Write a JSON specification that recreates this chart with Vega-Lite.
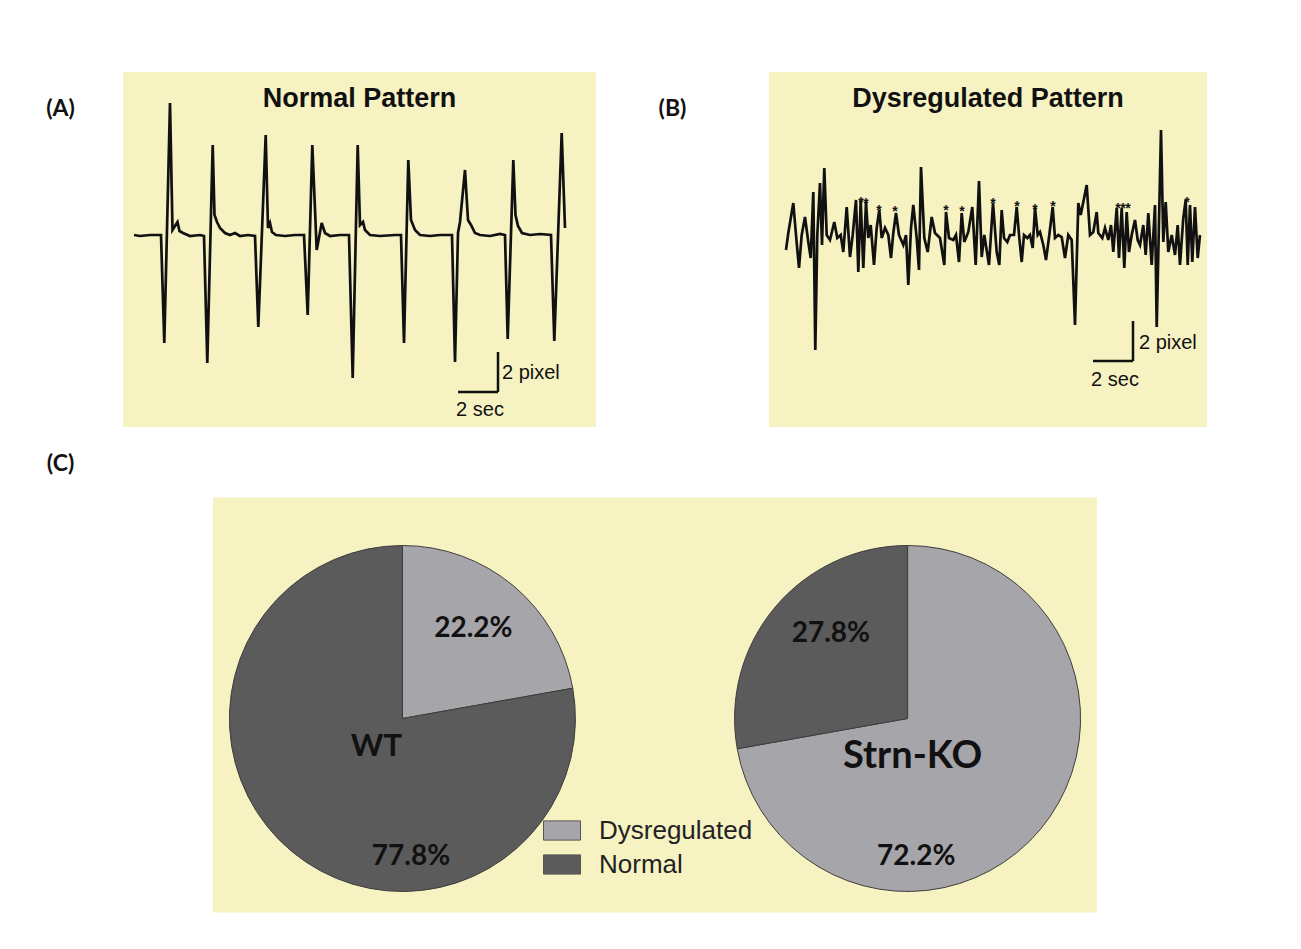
{
  "$schema": "https://vega.github.io/schema/vega-lite/v6.json",
  "background": "white",
  "padding": {"left": 45, "top": 72, "right": 5, "bottom": 5},
  "datasets": {
    "traceA": [
      {"t":0.05,"v":0},{"t":0.35,"v":-0.05},{"t":0.85,"v":0},{"t":1.4,"v":0},{"t":1.565,"v":-5.4},{"t":1.85,"v":6.6},{"t":1.975,"v":0.25},{"t":2.1,"v":0.45},{"t":2.225,"v":0.65},{"t":2.325,"v":0.2},{"t":2.5,"v":0.1},{"t":2.85,"v":-0.05},{"t":3.35,"v":0},{"t":3.55,"v":-0.05},{"t":3.715,"v":-6.4},{"t":3.985,"v":4.5},{"t":4.075,"v":1.0},{"t":4.2,"v":0.65},{"t":4.35,"v":0.35},{"t":4.6,"v":0.1},{"t":4.85,"v":0},{"t":5.1,"v":0.1},{"t":5.35,"v":-0.05},{"t":5.75,"v":0},{"t":6.1,"v":-0.05},{"t":6.265,"v":-4.6},{"t":6.635,"v":5.0},{"t":6.75,"v":0.35},{"t":6.85,"v":0.6},{"t":6.95,"v":0.15},{"t":7.15,"v":0},{"t":7.6,"v":-0.05},{"t":8.1,"v":0},{"t":8.55,"v":0},{"t":8.735,"v":-4.0},{"t":8.965,"v":4.5},{"t":9.185,"v":-0.75},{"t":9.435,"v":0.6},{"t":9.6,"v":0.1},{"t":9.85,"v":-0.05},{"t":10.35,"v":0},{"t":10.8,"v":0},{"t":10.985,"v":-7.15},{"t":11.235,"v":4.5},{"t":11.35,"v":0.5},{"t":11.5,"v":0.65},{"t":11.6,"v":0.25},{"t":11.85,"v":0},{"t":12.35,"v":-0.05},{"t":13.1,"v":0},{"t":13.4,"v":0},{"t":13.55,"v":-5.4},{"t":13.765,"v":3.75},{"t":13.9,"v":0.75},{"t":14.1,"v":0.25},{"t":14.35,"v":0},{"t":14.85,"v":-0.05},{"t":15.35,"v":0},{"t":15.95,"v":0},{"t":16.1,"v":-6.35},{"t":16.25,"v":0.1},{"t":16.35,"v":0.65},{"t":16.6,"v":3.25},{"t":16.75,"v":0.75},{"t":16.9,"v":0.5},{"t":17.1,"v":0.1},{"t":17.35,"v":0},{"t":17.85,"v":-0.05},{"t":18.35,"v":0.05},{"t":18.6,"v":0},{"t":18.735,"v":-5.2},{"t":19.015,"v":3.75},{"t":19.125,"v":1.0},{"t":19.25,"v":0.45},{"t":19.45,"v":0.1},{"t":19.85,"v":0},{"t":20.35,"v":0.05},{"t":20.9,"v":0},{"t":21.065,"v":-5.3},{"t":21.435,"v":5.1},{"t":21.6,"v":0.35}
    ],
    "traceB": [
      {"t":0.05,"v":-0.75},{"t":0.165,"v":0.1},{"t":0.415,"v":1.6},{"t":0.55,"v":0},{"t":0.7,"v":-1.65},{"t":0.835,"v":0},{"t":1.0,"v":0.9},{"t":1.165,"v":-0.35},{"t":1.285,"v":-1.15},{"t":1.415,"v":2.15},{"t":1.515,"v":-5.75},{"t":1.615,"v":0},{"t":1.75,"v":2.6},{"t":1.85,"v":-0.5},{"t":1.965,"v":3.35},{"t":2.085,"v":0},{"t":2.25,"v":-0.25},{"t":2.465,"v":0.65},{"t":2.615,"v":-0.15},{"t":2.785,"v":0},{"t":2.915,"v":-0.85},{"t":3.085,"v":1.4},{"t":3.25,"v":-1.1},{"t":3.385,"v":0},{"t":3.55,"v":1.75},{"t":3.665,"v":-1.85},{"t":3.785,"v":1.75},{"t":3.915,"v":-1.65},{"t":4.05,"v":1.65},{"t":4.165,"v":-0.15},{"t":4.285,"v":0.5},{"t":4.45,"v":-1.5},{"t":4.585,"v":0.35},{"t":4.715,"v":1.25},{"t":4.835,"v":-0.15},{"t":5.0,"v":0.35},{"t":5.165,"v":0},{"t":5.3,"v":-1.15},{"t":5.415,"v":0.1},{"t":5.55,"v":1.1},{"t":5.7,"v":0},{"t":5.915,"v":-0.5},{"t":6.05,"v":0},{"t":6.165,"v":-2.5},{"t":6.3,"v":0.35},{"t":6.415,"v":1.5},{"t":6.585,"v":-0.15},{"t":6.7,"v":-1.75},{"t":6.8,"v":3.4},{"t":6.965,"v":-0.15},{"t":7.135,"v":-0.85},{"t":7.335,"v":0.9},{"t":7.5,"v":0.1},{"t":7.75,"v":-0.15},{"t":7.965,"v":-1.5},{"t":8.05,"v":1.15},{"t":8.2,"v":-0.15},{"t":8.415,"v":-0.25},{"t":8.55,"v":0},{"t":8.7,"v":-1.35},{"t":8.835,"v":1.1},{"t":8.965,"v":-0.35},{"t":9.165,"v":0.15},{"t":9.365,"v":1.4},{"t":9.535,"v":-1.5},{"t":9.7,"v":2.7},{"t":9.835,"v":-1.1},{"t":9.965,"v":0},{"t":10.2,"v":-1.5},{"t":10.4,"v":1.6},{"t":10.585,"v":-0.85},{"t":10.715,"v":-1.5},{"t":10.835,"v":1.25},{"t":10.95,"v":-0.15},{"t":11.115,"v":-0.35},{"t":11.25,"v":0},{"t":11.45,"v":0},{"t":11.585,"v":1.4},{"t":11.715,"v":-0.15},{"t":11.835,"v":-1.35},{"t":11.95,"v":0},{"t":12.115,"v":-0.15},{"t":12.25,"v":0},{"t":12.385,"v":-0.65},{"t":12.5,"v":1.35},{"t":12.635,"v":0},{"t":12.75,"v":0.15},{"t":12.915,"v":-0.5},{"t":13.05,"v":-1.25},{"t":13.215,"v":0},{"t":13.385,"v":1.4},{"t":13.5,"v":-0.15},{"t":13.665,"v":0},{"t":13.835,"v":-0.1},{"t":14.0,"v":-1.15},{"t":14.165,"v":0},{"t":14.335,"v":-0.25},{"t":14.5,"v":-4.5},{"t":14.665,"v":1.6},{"t":14.785,"v":1.0},{"t":15.085,"v":2.5},{"t":15.25,"v":0},{"t":15.415,"v":0.15},{"t":15.585,"v":1.15},{"t":15.665,"v":0.1},{"t":15.865,"v":-0.15},{"t":16.0,"v":0.35},{"t":16.165,"v":-0.25},{"t":16.3,"v":0.5},{"t":16.415,"v":-0.85},{"t":16.585,"v":1.35},{"t":16.7,"v":-1.15},{"t":16.835,"v":1.35},{"t":16.965,"v":-1.65},{"t":17.085,"v":1.15},{"t":17.2,"v":-0.85},{"t":17.335,"v":0},{"t":17.5,"v":0.75},{"t":17.635,"v":-0.25},{"t":17.75,"v":-0.5},{"t":17.915,"v":0.5},{"t":18.035,"v":-1.0},{"t":18.165,"v":1.1},{"t":18.335,"v":-1.5},{"t":18.5,"v":1.5},{"t":18.585,"v":-4.6},{"t":18.8,"v":5.25},{"t":18.915,"v":-0.35},{"t":19.035,"v":1.65},{"t":19.165,"v":-0.85},{"t":19.335,"v":0},{"t":19.5,"v":-1.0},{"t":19.635,"v":0.5},{"t":19.75,"v":-1.5},{"t":19.915,"v":0.85},{"t":20.035,"v":1.75},{"t":20.135,"v":-1.5},{"t":20.25,"v":1.5},{"t":20.365,"v":-1.35},{"t":20.5,"v":1.4},{"t":20.635,"v":-1.15},{"t":20.75,"v":0}
    ],
    "starsB": [
      {"t":3.8,"v":1.75},{"t":4.05,"v":1.7},{"t":4.7,"v":1.35},{"t":5.5,"v":1.3},{"t":8.05,"v":1.35},{"t":8.85,"v":1.3},{"t":10.4,"v":1.7},{"t":11.6,"v":1.55},{"t":12.5,"v":1.4},{"t":13.4,"v":1.55},{"t":16.65,"v":1.45},{"t":16.9,"v":1.45},{"t":17.15,"v":1.45},{"t":20.1,"v":1.75}
    ],
    "pies": [
      {"genotype":"WT","status":"Dysregulated","share":0.222},
      {"genotype":"WT","status":"Normal","share":0.778},
      {"genotype":"Strn-KO","status":"Dysregulated","share":0.722},
      {"genotype":"Strn-KO","status":"Normal","share":0.278}
    ]
  },
  "bounds": "full",
  "spacing": 25.5,
  "resolve": {"scale": {"color": "independent"}, "legend": {"color": "independent"}},
  "vconcat": [
    {
      "bounds": "flush",
      "spacing": 173,
      "hconcat": [
        {
          "width": 473,
          "height": 355,
          "title": {"text": "Normal Pattern", "frame": "group", "anchor": "middle", "offset": -41, "fontSize": 27, "font": "Liberation Sans", "fontWeight": "bold", "color": "#111111"},
          "layer": [
            {
              "data": {"name": "traceA"},
              "mark": {"type": "line", "color": "#111111", "strokeWidth": 2.7},
              "encoding": {
                "x": {"field": "t", "type": "quantitative", "scale": {"domain": [-0.5, 23.15], "nice": false, "zero": false}, "axis": null},
                "y": {"field": "v", "type": "quantitative", "scale": {"domain": [-9.6, 8.15], "nice": false, "zero": false},
                      "axis": {"title": "(A)", "domain": false, "ticks": false, "labels": false, "grid": false, "titleAngle": 0, "titleX": -63, "titleY": 36, "titleAlign": "center", "titleBaseline": "middle", "titleFont": "Lato", "titleFontSize": 23, "titleFontWeight": "bold", "titleColor": "#111111"}}
              }
            },
            {
              "data": {"values": [{"bar": "time"}]},
              "mark": {"type": "rule", "color": "#111111", "strokeWidth": 2.5},
              "encoding": {"x": {"datum": 16.25}, "x2": {"datum": 18.25}, "y": {"datum": -7.85}}
            },
            {
              "data": {"values": [{"bar": "amplitude"}]},
              "mark": {"type": "rule", "color": "#111111", "strokeWidth": 2.5},
              "encoding": {"x": {"datum": 18.25}, "y": {"datum": -7.85}, "y2": {"datum": -5.85}}
            },
            {
              "data": {"values": [{"label": "2 pixel"}]},
              "mark": {"type": "text", "align": "left", "baseline": "middle", "fontSize": 20, "font": "Liberation Sans", "color": "#111111"},
              "encoding": {"x": {"datum": 18.45}, "y": {"datum": -6.9}, "text": {"field": "label"}}
            },
            {
              "data": {"values": [{"label": "2 sec"}]},
              "mark": {"type": "text", "align": "center", "baseline": "middle", "fontSize": 20, "font": "Liberation Sans", "color": "#111111"},
              "encoding": {"x": {"datum": 17.35}, "y": {"datum": -8.75}, "text": {"field": "label"}}
            }
          ]
        },
        {
          "width": 438,
          "height": 355,
          "title": {"text": "Dysregulated Pattern", "frame": "group", "anchor": "middle", "offset": -41, "fontSize": 27, "font": "Liberation Sans", "fontWeight": "bold", "color": "#111111"},
          "layer": [
            {
              "data": {"name": "traceB"},
              "mark": {"type": "line", "color": "#111111", "strokeWidth": 2.7},
              "encoding": {
                "x": {"field": "t", "type": "quantitative", "scale": {"domain": [-0.8, 21.1], "nice": false, "zero": false}, "axis": null},
                "y": {"field": "v", "type": "quantitative", "scale": {"domain": [-9.6, 8.15], "nice": false, "zero": false},
                      "axis": {"title": "(B)", "domain": false, "ticks": false, "labels": false, "grid": false, "titleAngle": 0, "titleX": -97, "titleY": 36, "titleAlign": "center", "titleBaseline": "middle", "titleFont": "Lato", "titleFontSize": 23, "titleFontWeight": "bold", "titleColor": "#111111"}}
              }
            },
            {
              "data": {"name": "starsB"},
              "mark": {"type": "text", "text": "*", "fontSize": 14, "fontWeight": "bold", "font": "Liberation Sans", "baseline": "middle", "align": "center", "dy": 3, "color": "#111111"},
              "encoding": {"x": {"field": "t", "type": "quantitative"}, "y": {"field": "v", "type": "quantitative"}}
            },
            {
              "data": {"values": [{"bar": "time"}]},
              "mark": {"type": "rule", "color": "#111111", "strokeWidth": 2.5},
              "encoding": {"x": {"datum": 15.4}, "x2": {"datum": 17.4}, "y": {"datum": -6.3}}
            },
            {
              "data": {"values": [{"bar": "amplitude"}]},
              "mark": {"type": "rule", "color": "#111111", "strokeWidth": 2.5},
              "encoding": {"x": {"datum": 17.4}, "y": {"datum": -6.3}, "y2": {"datum": -4.3}}
            },
            {
              "data": {"values": [{"label": "2 pixel"}]},
              "mark": {"type": "text", "align": "left", "baseline": "middle", "fontSize": 20, "font": "Liberation Sans", "color": "#111111"},
              "encoding": {"x": {"datum": 17.7}, "y": {"datum": -5.4}, "text": {"field": "label"}}
            },
            {
              "data": {"values": [{"label": "2 sec"}]},
              "mark": {"type": "text", "align": "center", "baseline": "middle", "fontSize": 20, "font": "Liberation Sans", "color": "#111111"},
              "encoding": {"x": {"datum": 16.5}, "y": {"datum": -7.25}, "text": {"field": "label"}}
            }
          ]
        }
      ]
    },
    {
      "bounds": "flush",
      "spacing": 0,
      "resolve": {"scale": {"color": "independent"}, "legend": {"color": "independent"}},
      "hconcat": [
        {
          "width": 90,
          "height": 10,
          "view": {"fill": null, "stroke": null},
          "data": {"values": []},
          "mark": "point"
        },
        {
          "width": 884,
          "height": 415,
          "data": {"name": "pies"},
          "transform": [
            {"stack": "share", "groupby": ["genotype"], "sort": [{"field": "status", "order": "ascending"}], "as": ["s0", "s1"]}
          ],
          "encoding": {
            "x": {"field": "genotype", "type": "nominal", "scale": {"type": "point", "domain": ["WT", "Strn-KO"], "padding": 0.375},
                  "axis": {"orient": "top", "title": "(C)", "domain": false, "ticks": false, "labels": false, "grid": false, "titleAngle": 0, "titleX": -153, "titleY": -34, "titleAlign": "center", "titleBaseline": "middle", "titleFont": "Lato", "titleFontSize": 23, "titleFontWeight": "bold", "titleColor": "#111111"}}
          },
          "layer": [
            {
              "mark": {"type": "arc", "radius": 173, "stroke": "#3d3d3d", "strokeWidth": 1, "yOffset": 13.5},
              "encoding": {
                "theta": {"field": "s0", "type": "quantitative", "scale": {"domain": [0, 1]}, "stack": null},
                "theta2": {"field": "s1"},
                "color": {"field": "status", "type": "nominal",
                          "scale": {"domain": ["Dysregulated", "Normal"], "range": ["#a6a6aa", "#5b5b5b"]},
                          "legend": {"title": null, "orient": "none", "legendX": 336, "legendY": 320, "padding": 0,
                                     "symbolType": "M-1.5,-0.78H1.5V0.78H-1.5Z", "symbolSize": 609, "symbolStrokeColor": "#555555", "symbolStrokeWidth": 1,
                                     "labelFont": "Liberation Sans", "labelFontSize": 26, "labelColor": "#222222", "labelOffset": 24, "rowPadding": 8}}
              }
            },
            {
              "transform": [{"filter": "datum.share < 0.5"}],
              "mark": {"type": "text", "radius": 115, "thetaOffset": -0.73, "dy": 15, "font": "Lato", "fontWeight": "bold", "fontSize": 28, "color": "#111111", "align": "center", "baseline": "middle"},
              "encoding": {
                "theta": {"field": "s1", "type": "quantitative", "scale": {"domain": [0, 1]}, "stack": null},
                "text": {"field": "share", "type": "quantitative", "format": ".1%"}
              }
            },
            {
              "transform": [{"filter": "datum.share > 0.5"}],
              "mark": {"type": "text", "radius": 137, "dy": 15.5, "font": "Lato", "fontWeight": "bold", "fontSize": 28, "color": "#111111", "align": "center", "baseline": "middle"},
              "encoding": {
                "theta": {"datum": 0.49, "type": "quantitative", "scale": {"domain": [0, 1]}},
                "text": {"field": "share", "type": "quantitative", "format": ".1%"}
              }
            },
            {
              "transform": [{"filter": "datum.genotype == 'WT' && datum.status == 'Normal'"}],
              "mark": {"type": "text", "dx": -26, "dy": 42, "font": "Lato", "fontWeight": "bold", "fontSize": 31, "color": "#111111", "align": "center", "baseline": "middle"},
              "encoding": {"text": {"field": "genotype"}}
            },
            {
              "transform": [{"filter": "datum.genotype == 'Strn-KO' && datum.status == 'Normal'"}],
              "mark": {"type": "text", "dx": 5, "dy": 52, "font": "Lato", "fontWeight": "bold", "fontSize": 38, "color": "#111111", "align": "center", "baseline": "middle"},
              "encoding": {"text": {"field": "genotype"}}
            }
          ]
        }
      ]
    }
  ],
  "config": {
    "view": {"stroke": null, "fill": "#f6f2c2"},
    "font": "Liberation Sans"
  }
}
